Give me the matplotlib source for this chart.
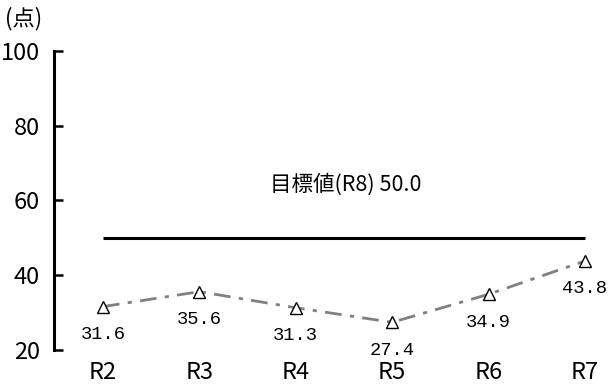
import numpy as np
import matplotlib.pyplot as plt

plt.rcParams['font.family'] = ['Noto Sans CJK JP', 'DejaVu Sans']

years = ['R2', 'R3', 'R4', 'R5', 'R6', 'R7']
scores = [31.6, 35.6, 31.3, 27.4, 34.9, 43.8]
target = 50.0
target_label = '目標値(R8) 50.0'

fig = plt.figure(figsize=(6.08, 3.89), dpi=100)
ax = fig.add_axes([0.0888, 0.1003, 0.905, 0.769])

x = np.arange(len(years))
ax.plot(x, [target] * len(x), color='black', lw=2.2, solid_capstyle='butt')
ax.plot(x, scores, color='#808080', lw=2, linestyle=(0, (6, 3, 1.5, 3)),
        marker='^', markersize=9, markerfacecolor='white',
        markeredgecolor='black', markeredgewidth=1)

for xi, v in zip(x, scores):
    ax.annotate(f'{v:.1f}', (xi, v), xytext=(0, -20), textcoords='offset points',
                ha='center', va='center', fontsize=13.5, family='Liberation Mono')

ax.text(2.52, 64.3, target_label, ha='center', va='center', fontsize=15.5)

ax.set_xlim(-0.508, 5.2)
ax.set_ylim(20, 100)
ax.set_yticks([20, 40, 60, 80, 100])
ax.set_xticks(x)
ax.set_xticklabels(years)
ax.tick_params(axis='y', direction='in', length=6.5, width=1.8, labelsize=17, pad=10)
ax.tick_params(axis='x', length=0, labelsize=17, pad=8)
for s in ['top', 'right', 'bottom']:
    ax.spines[s].set_visible(False)
ax.spines['left'].set_linewidth(2.2)

fig.text(0.008, 0.953, '(点)', fontsize=16, ha='left', va='center')

fig.savefig('out.png', dpi=100)
